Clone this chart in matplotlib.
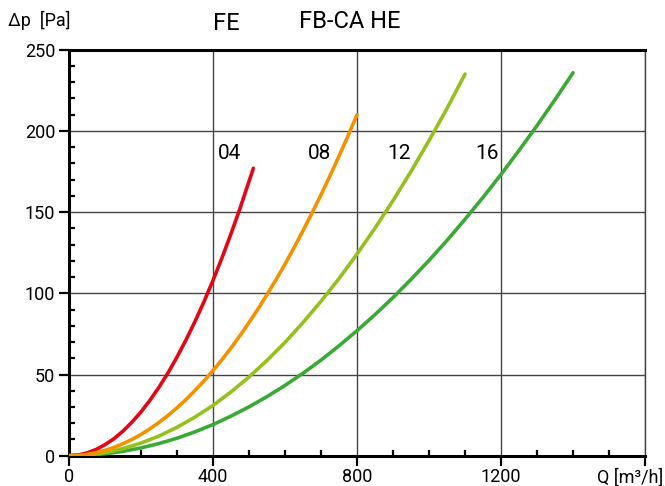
import matplotlib.pyplot as plt
from matplotlib.ticker import MultipleLocator

plt.rcParams['font.family'] = ['Roboto', 'DejaVu Sans']

# flow Q [m3/h] and pressure drop [Pa]
q_04 = [0, 25, 50, 75, 100, 125, 150, 175, 200, 225, 250, 275, 300, 325, 350, 375, 400,
        425, 450, 475, 512]
dp_04 = [0, 0.4, 1.7, 3.8, 6.8, 10.5, 15.2, 20.7, 27, 34.2, 42.2, 51, 60.8, 71.3, 82.7, 94.9, 108,
         121.9, 136.7, 152.3, 177]

q_08 = [0, 25, 50, 75, 100, 125, 150, 175, 200, 225, 250, 275, 300, 325, 350, 375, 400, 425,
        450, 475, 500, 525, 550, 575, 600, 625, 650, 675, 700, 725, 750, 775, 800]
dp_08 = [0, 0.2, 0.8, 1.8, 3.3, 5.1, 7.4, 10, 13.1, 16.6, 20.5, 24.8, 29.5, 34.6, 40.2, 46.1, 52.5, 59.2,
         66.4, 74, 82, 90.4, 99.2, 108.4, 118, 128.1, 138.6, 149.4, 160.7, 172.4, 184.5, 197, 210]

q_12 = [0, 50, 100, 150, 200, 250, 300, 350, 400, 450, 500, 550, 600, 650, 700, 750,
        800, 850, 900, 950, 1000, 1050, 1100]
dp_12 = [0, 0.5, 1.9, 4.4, 7.8, 12.1, 17.5, 23.8, 31, 39.3, 48.5, 58.7, 69.8, 82, 95.1, 109.1,
         124.2, 140.2, 157.1, 175.1, 194, 213.9, 235]

q_16 = [0, 50, 100, 150, 200, 250, 300, 350, 400, 450, 500, 550, 600, 650, 700, 750,
        800, 850, 900, 950, 1000, 1050, 1100, 1150, 1200, 1250, 1300, 1350, 1400]
dp_16 = [0, 0.3, 1.2, 2.7, 4.8, 7.5, 10.8, 14.7, 19.2, 24.4, 30.1, 36.4, 43.3, 50.8, 58.9, 67.7,
         77, 86.9, 97.4, 108.6, 120.3, 132.6, 145.6, 159.1, 173.2, 188, 203.3, 219.3, 235.8]

sizes = ['04', '08', '12', '16']
label_q = [446, 695, 916, 1160]
label_dp = [186, 186, 186, 186]
colors = ['#e30613', '#f39200', '#95c11f', '#3aaa35']

fig = plt.figure(figsize=(6.65, 4.86), dpi=100)
ax = fig.add_axes([0.1038, 0.0623, 0.8662, 0.8354])

curves = [(q_04, dp_04), (q_08, dp_08), (q_12, dp_12), (q_16, dp_16)]
for i in [3, 2, 0, 1]:
    q, dp = curves[i]
    ax.plot(q, dp, color=colors[i], lw=2.6, solid_capstyle='round', zorder=3)

for s, x, y in zip(sizes, label_q, label_dp):
    ax.text(x, y, s, fontsize=15, ha='center', va='center', color='black')

ax.set_xlim(0, 1600)
ax.set_ylim(0, 250)
ax.xaxis.set_major_locator(MultipleLocator(400))
ax.xaxis.set_minor_locator(MultipleLocator(100))
ax.yaxis.set_major_locator(MultipleLocator(50))
ax.yaxis.set_minor_locator(MultipleLocator(10))
ax.set_xticks([0, 400, 800, 1200, 1600])
ax.set_xticklabels(['0', '400', '800', '1200', ''])

ax.grid(True, which='major', color='#444444', lw=1.0)
ax.tick_params(which='major', direction='out', length=7, width=1.6, labelsize=13, pad=3)
ax.tick_params(which='minor', direction='in', length=4, width=1.6)
ax.tick_params(axis='x', pad=2)

for side in ['left', 'bottom', 'top']:
    ax.spines[side].set_linewidth(2.2)
    ax.spines[side].set_color('black')
ax.spines['right'].set_linewidth(1.0)
ax.spines['right'].set_color('#444444')

fig.text(8 / 665, 1 - 20 / 486, 'Δp  [Pa]', fontsize=13, ha='left', va='center')
fig.text(663 / 665, 1 - 478 / 486, 'Q [m³/h]', fontsize=13, ha='right', va='center')
fig.text(350 / 665, 1 - 22 / 486, 'FB-CA HE', fontsize=17, ha='center', va='center')
fig.text(226 / 665, 1 - 24 / 486, 'FE', fontsize=17, ha='center', va='center')

fig.savefig('out.png', dpi=100)
